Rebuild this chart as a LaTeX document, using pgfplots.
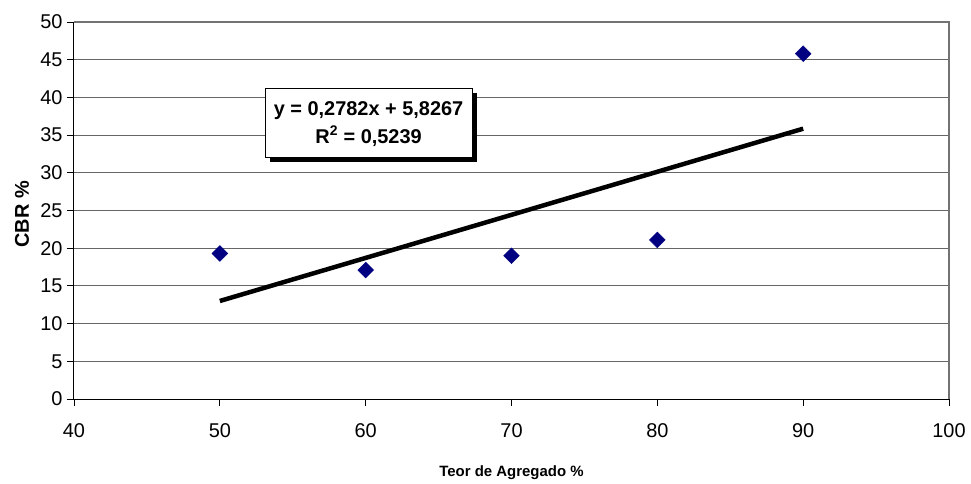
\documentclass[border=0pt]{standalone}
\usepackage{pgfplots}
\pgfplotsset{compat=1.18}
\usepackage{fontspec}
\setmainfont{Liberation Sans}
\definecolor{navyblue}{RGB}{0,0,128}
\begin{document}
\begin{tikzpicture}
\begin{axis}[
  scale only axis,
  width=875bp, height=377bp,
  xmin=40, xmax=100, ymin=0, ymax=50,
  xtick={40,50,...,100}, ytick={0,5,...,50},
  ymajorgrids,
  major grid style={color=black!60, line width=0.9bp},
  axis line style={line width=1bp},
  separate axis lines,
  x axis line style={black},
  y axis line style={black},
  tick style={black, line width=0.9bp},
  major tick length=7bp,
  tick align=outside,
  xtick pos=bottom, ytick pos=left,
  /pgf/number format/assume math mode=true,
  ticklabel style={font=\fontsize{20}{22}\selectfont},
  xticklabel style={yshift=-14bp},
  yticklabel style={xshift=-1bp},
  xlabel={\textbf{Teor de Agregado \%}},
  ylabel={\textbf{CBR \%}},
  xlabel style={font=\fontsize{15}{17}\selectfont, at={(axis description cs:0.5,0)}, anchor=base, yshift=-77bp},
  ylabel style={font=\fontsize{20}{22}\selectfont, at={([xshift=-52bp]axis description cs:0,0.49)}, anchor=center, rotate=0},
  clip=false,
]
\draw[black!55, line width=1.2bp] (axis cs:40,50) -- (axis cs:100,50) -- (axis cs:100,0);
\addplot[only marks, mark=square*, mark size=5.6bp, mark options={rotate=45, fill=navyblue, draw=navyblue}]
  coordinates {(50,19.3) (60,17.1) (70,19.0) (80,21.1) (90,45.8)};
\addplot[black, line width=4.5bp, no marks] coordinates {(50,13.0) (90,35.85)};
\fill[black] ([xshift=5bp,yshift=-5bp]axis cs:53.1,41.25) rectangle ([xshift=5bp,yshift=-5bp]axis cs:67.3,32.1);
\draw[black, fill=white, line width=0.9bp] (axis cs:53.1,41.25) rectangle (axis cs:67.3,32.1);
\node[align=center, font=\fontsize{20}{28}\selectfont\bfseries] at (axis cs:60.2,36.5)
  {y = 0,2782x + 5,8267\\R$^{\mathbf{2}}$ = 0,5239};
\end{axis}
\path (current axis.south west) ++(-74bp,-84bp) coordinate (bl);
\path (current axis.north east) ++(22bp,22bp) coordinate (tr);
\useasboundingbox (bl) rectangle (tr);
\end{tikzpicture}
\end{document}
